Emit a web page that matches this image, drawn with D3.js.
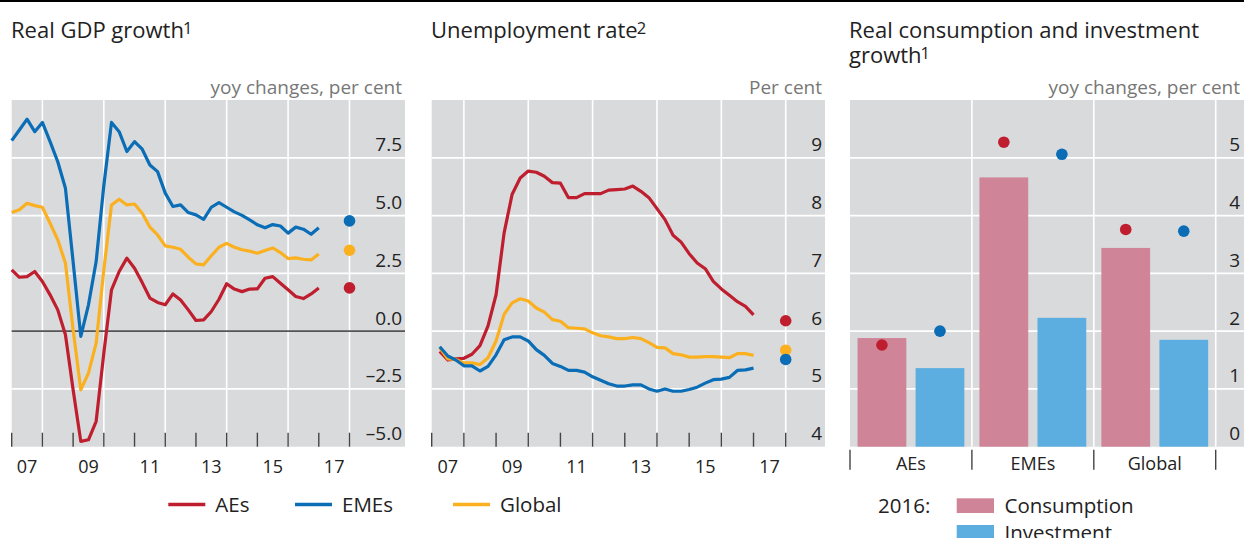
<!DOCTYPE html>
<html><head><meta charset="utf-8">
<script src="https://cdn.jsdelivr.net/npm/d3@7"></script>
<style>
html,body{margin:0;padding:0;background:#fff;}
svg{display:block;font-family:"Open Sans","Noto Sans",sans-serif;}
</style></head><body>
<svg id="c" width="1244" height="538"></svg>
<script>
// ---------- DATA ----------
const gdpStart = 2007; // quarterly points, first at 2007.0
const gdpAEs = [2.65,2.33,2.36,2.58,2.15,1.57,0.92,-0.16,-2.54,-4.77,-4.7,-3.9,-0.95,1.79,2.58,3.16,2.72,2.1,1.43,1.24,1.14,1.61,1.35,0.92,0.46,0.49,0.85,1.38,2.05,1.82,1.71,1.82,1.83,2.29,2.36,2.07,1.79,1.5,1.41,1.61,1.87];
const gdpEMEs = [8.24,8.7,9.17,8.63,9.03,8.2,7.33,6.18,3.0,-0.23,1.14,3.01,6.3,9.03,8.63,7.77,8.2,7.87,7.19,6.9,5.97,5.39,5.46,5.13,5.03,4.84,5.36,5.56,5.36,5.16,5.01,4.81,4.6,4.47,4.61,4.55,4.24,4.5,4.41,4.19,4.47];
const gdpGlobal = [5.13,5.25,5.53,5.43,5.36,4.67,3.95,2.94,0.06,-2.54,-1.82,-0.52,2.65,5.46,5.71,5.46,5.5,5.1,4.5,4.16,3.69,3.63,3.54,3.2,2.91,2.87,3.26,3.63,3.8,3.63,3.52,3.46,3.37,3.49,3.6,3.4,3.14,3.17,3.11,3.08,3.34];
const gdpForecast = {AEs:1.87, EMEs:4.77, Global:3.5}; // plotted at 2018
const unStart = 2007.25; // quarterly points
const unAEs = [5.65,5.5,5.52,5.53,5.6,5.75,6.09,6.63,7.7,8.37,8.65,8.77,8.75,8.68,8.57,8.56,8.31,8.31,8.38,8.38,8.38,8.44,8.45,8.46,8.51,8.42,8.31,8.12,7.93,7.66,7.54,7.34,7.18,7.08,6.86,6.73,6.62,6.51,6.43,6.28];
const unEMEs = [5.73,5.57,5.5,5.4,5.4,5.31,5.39,5.59,5.85,5.9,5.9,5.83,5.68,5.58,5.44,5.39,5.32,5.32,5.29,5.21,5.15,5.09,5.05,5.05,5.07,5.07,5.0,4.96,5.0,4.96,4.96,4.99,5.03,5.1,5.16,5.17,5.2,5.32,5.33,5.36];
const unGlobal = [5.71,5.52,5.51,5.45,5.45,5.42,5.54,5.83,6.29,6.49,6.56,6.52,6.4,6.33,6.2,6.17,6.06,6.05,6.04,5.97,5.92,5.9,5.87,5.87,5.89,5.87,5.8,5.72,5.71,5.61,5.59,5.55,5.55,5.56,5.56,5.55,5.54,5.61,5.61,5.58];
const unForecast = {AEs:6.18, EMEs:5.51, Global:5.67};
const groups = ["AEs","EMEs","Global"];
const consumption2016 = [1.88,4.66,3.44];
const investment2016 = [1.36,2.23,1.85];
const consumptionDots = [1.76,5.27,3.76];
const investmentDots = [2.0,5.06,3.73];
const gdpTicks = [-5,-2.5,0,2.5,5,7.5];
const unTicks = [4,5,6,7,8,9];
const barTicks = [0,1,2,3,4,5];
const yearLabels = [2007,2009,2011,2013,2015,2017];

// ---------- STYLE ----------
const C = {AEs:"#be1e2d", EMEs:"#0a6db6", Global:"#fbb020", cons:"#cf8497", inv:"#5daee0", bg:"#d9dadc", grid:"#ffffff", tick:"#444", text:"#222", unit:"#777"};
const TOP = 100, BOT = 446.7;
const svg = d3.select("#c");

svg.append("rect").attr("x",0).attr("y",0).attr("width",1244).attr("height",2).attr("fill","#000");

function title(x, lines, sup){
  lines.forEach((ln,i)=>{
    const t = svg.append("text").attr("x",x).attr("y",38+i*25).attr("font-size",22).attr("fill",C.text).text(ln);
    if(i===lines.length-1){
      t.append("tspan").attr("font-size",16.5).attr("dx",-1).attr("dy",-4).text(sup);
    }
  });
}
function unit(xr, txt){
  svg.append("text").attr("x",xr).attr("y",93.5).attr("text-anchor","end").attr("font-size",19).attr("fill",C.unit).text(txt);
}

function linePanel(opt){
  const g = svg.append("g");
  const x = d3.scaleLinear().domain([2007,2018]).range([opt.x0, opt.x18]);
  const y = d3.scaleLinear().domain(opt.ydom).range([BOT, TOP]);
  g.append("rect").attr("x",opt.x0).attr("y",TOP).attr("width",opt.xr-opt.x0).attr("height",BOT-TOP).attr("fill",C.bg);
  g.selectAll(".vg").data(d3.range(2008,2019,2)).join("line")
    .attr("x1",d=>x(d)).attr("x2",d=>x(d)).attr("y1",TOP).attr("y2",BOT)
    .attr("stroke",C.grid).attr("stroke-width",1.6);
  g.selectAll(".hg").data(opt.ticks.filter(d=>d!==opt.ydom[0] && d!==0)).join("line")
    .attr("x1",opt.x0).attr("x2",opt.xr).attr("y1",d=>y(d)).attr("y2",d=>y(d))
    .attr("stroke",C.grid).attr("stroke-width",1.8);
  if(opt.zero){
    g.append("line").attr("x1",opt.x0).attr("x2",opt.xr).attr("y1",y(0)).attr("y2",y(0))
      .attr("stroke","#555").attr("stroke-width",1.6);
  }
  g.selectAll(".tk").data(d3.range(2007,2019)).join("line")
    .attr("x1",d=>x(d)).attr("x2",d=>x(d)).attr("y1",BOT-14).attr("y2",BOT)
    .attr("stroke",C.tick).attr("stroke-width",1.4);
  g.selectAll(".yl").data(opt.ticks).join("text")
    .attr("x",opt.xr-3).attr("y",d=>y(d)-6.5).attr("text-anchor","end")
    .attr("font-size",19).attr("fill",C.text)
    .text(d=>opt.fmt(d));
  g.selectAll(".xl").data(yearLabels).join("text")
    .attr("x",d=>x(d+0.5)).attr("y",473).attr("text-anchor","middle")
    .attr("font-size",18).attr("fill",C.text)
    .text(d=>String(d).slice(2));
  const series = [["AEs",opt.data.AEs],["Global",opt.data.Global],["EMEs",opt.data.EMEs]];
  const ln = d3.line().x((d,i)=>x(opt.start+i/4)).y(d=>y(d));
  series.forEach(([k,v])=>{
    g.append("path").attr("d",ln(v)).attr("fill","none").attr("stroke",C[k])
      .attr("stroke-width",3.2).attr("stroke-linejoin","round");
  });
  ["AEs","Global","EMEs"].forEach(k=>{
    g.append("circle").attr("cx",x(2018)).attr("cy",y(opt.fc[k])).attr("r",5.8).attr("fill",C[k]);
  });
}

title(11,["Real GDP growth"],"1");
unit(402,"yoy changes, per cent");
linePanel({x0:11.7,x18:349.5,xr:405,ydom:[-5,10],ticks:gdpTicks,fmt:d=>d<0?"\u2013"+Math.abs(d).toFixed(1):d.toFixed(1),zero:true,
  start:gdpStart,data:{AEs:gdpAEs,EMEs:gdpEMEs,Global:gdpGlobal},fc:gdpForecast});

title(431,["Unemployment rate"],"2");
unit(822,"Per cent");
linePanel({x0:431.7,x18:785.7,xr:825,ydom:[4,10],ticks:unTicks,fmt:d=>String(d),zero:false,
  start:unStart,data:{AEs:unAEs,EMEs:unEMEs,Global:unGlobal},fc:unForecast});

title(849,["Real consumption and investment","growth"],"1");
unit(1240,"yoy changes, per cent");
(function(){
  const g = svg.append("g");
  const xb = d3.scaleBand().domain(groups).range([850,1215.7]);
  const xi = d3.scaleBand().domain(["c","i"]).range([0,xb.bandwidth()]).paddingInner(0.16).paddingOuter(0.13);
  const y = d3.scaleLinear().domain([0,6]).range([BOT,TOP]);
  g.append("rect").attr("x",850).attr("y",TOP).attr("width",1244-850).attr("height",BOT-TOP).attr("fill",C.bg);
  g.selectAll(".hg").data(barTicks.filter(d=>d>0)).join("line")
    .attr("x1",850).attr("x2",1244).attr("y1",d=>y(d)).attr("y2",d=>y(d))
    .attr("stroke",C.grid).attr("stroke-width",1.8);
  g.selectAll(".vg").data(groups.slice(1).map(d=>xb(d)).concat([xb.range()[1]])).join("line")
    .attr("x1",d=>d).attr("x2",d=>d).attr("y1",TOP).attr("y2",BOT)
    .attr("stroke",C.grid).attr("stroke-width",1.6);
  groups.forEach((gr,i)=>{
    const bx = xb(gr);
    g.append("rect").attr("x",bx+xi("c")).attr("width",xi.bandwidth()).attr("y",y(consumption2016[i])).attr("height",BOT-y(consumption2016[i])).attr("fill",C.cons);
    g.append("rect").attr("x",bx+xi("i")).attr("width",xi.bandwidth()).attr("y",y(investment2016[i])).attr("height",BOT-y(investment2016[i])).attr("fill",C.inv);
    g.append("circle").attr("cx",bx+xi("c")+xi.bandwidth()/2).attr("cy",y(consumptionDots[i])).attr("r",5.8).attr("fill",C.AEs);
    g.append("circle").attr("cx",bx+xi("i")+xi.bandwidth()/2).attr("cy",y(investmentDots[i])).attr("r",5.8).attr("fill",C.EMEs);
  });
  g.selectAll(".yl").data(barTicks).join("text")
    .attr("x",1240).attr("y",d=>y(d)-6.5).attr("text-anchor","end")
    .attr("font-size",19).attr("fill",C.text).text(d=>d);
  const bounds = groups.map(d=>xb(d)).concat([xb.range()[1]]);
  g.selectAll(".ct").data(bounds).join("line")
    .attr("x1",d=>d).attr("x2",d=>d).attr("y1",BOT+3).attr("y2",BOT+23)
    .attr("stroke",C.tick).attr("stroke-width",1.4);
  g.selectAll(".cl").data(groups).join("text")
    .attr("x",d=>xb(d)+xb.bandwidth()/2).attr("y",470).attr("text-anchor","middle")
    .attr("font-size",18).attr("fill",C.text).text(d=>d);
})();

const leg1 = [["AEs",168.3],["EMEs",295],["Global",453]];
leg1.forEach(([k,xx])=>{
  svg.append("line").attr("x1",xx).attr("x2",xx+37).attr("y1",504.5).attr("y2",504.5).attr("stroke",C[k]).attr("stroke-width",3.6);
  svg.append("text").attr("x",xx+47).attr("y",511.5).attr("font-size",20.5).attr("fill",C.text).text(k);
});
svg.append("text").attr("x",878).attr("y",513).attr("font-size",20.5).attr("fill",C.text).text("2016:");
[["Consumption","cons",498.3],["Investment","inv",525]].forEach(([t,k,yy])=>{
  svg.append("rect").attr("x",956.7).attr("y",yy).attr("width",37.3).attr("height",14.7).attr("fill",C[k]);
  svg.append("text").attr("x",1004.5).attr("y",yy+14.7).attr("font-size",20.5).attr("fill",C.text).text(t);
});
</script>
</body></html>
